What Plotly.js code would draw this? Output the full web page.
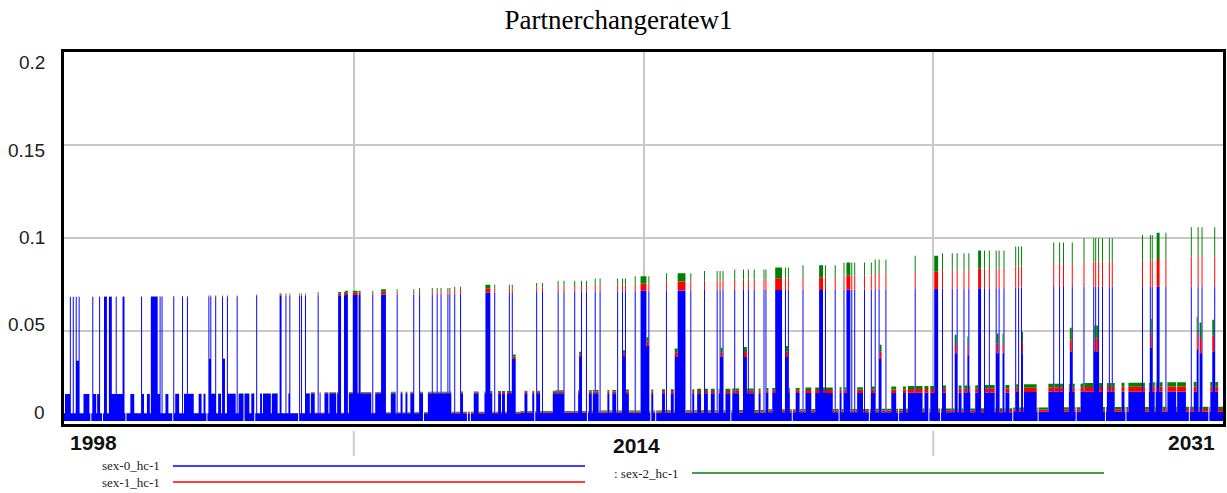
<!DOCTYPE html>
<html><head><meta charset="utf-8">
<script src="https://cdn.plot.ly/plotly-3.0.1.min.js"></script>
<style>html,body{margin:0;padding:0;background:#fff;}#chart{width:1227px;height:493px;}</style>
</head><body><div id="chart"></div>
<script>
// ---------------- DATA ----------------
const chartTitle = 'Partnerchangeratew1';
const seriesNames = ['sex-0_hc-1', 'sex-1_hc-1', 'sex-2_hc-1'];
const xTickText = ['1998', '2014', '2031'];
const yTickText = ['0', '0.05', '0.1', '0.15', '0.2'];
const yGrid = [0.05, 0.1, 0.15];
const startYear = 1998, endYear = 2031, stepsPerYear = 36;
const years = [1998,1999,2000,2001,2002,2003,2004,2005,2006,2007,2008,2009,2010,2011,2012,2013,2014,2015,2016,2017,2018,2019,2020,2021,2022,2023,2024,2025,2026,2027,2028,2029,2030,2031];

// level heights per year (blue = sex-0, red = sex-1, green = sex-2, stacked)
const baseBlue  = [.0058,.0058,.0058,.0058,.0058,.0058,.0058,.0058,.0058,.0058,.0058,.0058,.0058,.006,.006,.006,.006,.006,.006,.006,.0063,.0063,.0063,.0063,.0063,.0063,.0063,.0066,.0066,.0066,.0066,.0066,.0066,.0066];
const baseRed   = [0,0,0,0,0,0,.0001,.0002,.0002,.0003,.0004,.0005,.0005,.0006,.0006,.0007,.0007,.0008,.0008,.0008,.0009,.0009,.001,.001,.0011,.0011,.0012,.0012,.0013,.0013,.0013,.0014,.0014,.0015];
const baseGreen = [0,0,0,0,0,0,0,.0001,.0001,.0002,.0002,.0003,.0003,.0004,.0004,.0005,.0005,.0006,.0006,.0007,.0007,.0008,.0008,.0009,.0009,.001,.001,.0011,.0011,.0012,.0012,.0013,.0013,.0013];
const midBlue   = [.0161,.0161,.0161,.0161,.0161,.0161,.0161,.0165,.0165,.0165,.0165,.0165,.0165,.0165,.0165,.0165,.0165,.0165,.0165,.0165,.0166,.0166,.0166,.0167,.0168,.0169,.017,.0172,.0173,.0174,.0174,.0174,.0174,.0174];
const midRed    = [0,0,0,.0001,.0002,.0002,.0003,.0003,.0004,.0004,.0005,.0006,.0007,.0008,.0009,.001,.0011,.0012,.0013,.0014,.0015,.0017,.0018,.0019,.002,.0021,.0022,.0023,.0024,.0025,.0026,.0027,.0028,.0029];
const midGreen  = [0,0,0,.0001,.0001,.0002,.0002,.0003,.0003,.0004,.0004,.0004,.0005,.0006,.0007,.0008,.0009,.001,.0011,.0012,.0013,.0013,.0014,.0015,.0016,.0017,.0018,.0019,.002,.0021,.0022,.0023,.0024,.0025];
const tallBlue  = [.0684,.0684,.0684,.0684,.0686,.0688,.069,.0692,.0694,.0696,.0698,.07,.0705,.071,.0712,.0714,.0716,.0718,.072,.072,.072,.072,.0722,.0724,.0726,.0728,.073,.0734,.0736,.0738,.0738,.0738,.0738,.0738];
const tallRed   = [0,.0001,.0002,.0002,.0003,.0004,.0006,.0009,.0012,.0015,.0017,.002,.0022,.0025,.003,.0035,.004,.0048,.0053,.0057,.0063,.0069,.0076,.0083,.0092,.0098,.0105,.0114,.0124,.0134,.0143,.0149,.0164,.0172];
const tallGreen = [0,.0001,.0001,.0002,.0002,.0004,.0006,.0009,.0011,.0013,.0016,.0018,.0021,.0023,.0028,.0033,.0038,.0044,.0049,.0053,.0058,.0064,.007,.0077,.0086,.0092,.0098,.0106,.0116,.0126,.0135,.0141,.0156,.0163];

// times (years) of single-step tall spikes
const tallT = [1998.18,1998.25,1998.32,1998.42,1998.80,1999.01,1999.46,1999.68,1999.70,2000.19,2000.72,2000.78,2001.12,2001.37,2001.51,2002.11,2002.17,2002.30,2002.49,2002.65,2002.91,2003.48,2004.13,2004.17,2004.30,2004.43,
 2004.70,2004.76,2004.85,2005.21,2006.38,2006.43,2006.78,2007.15,2007.48,2007.95,2008.12,2008.47,2008.61,2008.73,2008.91,2008.97,2009.10,2009.29,2010.24,2010.68,2010.74,
 2011.44,2011.60,2012.06,2012.23,2012.54,2012.72,2012.85,2013.11,2013.25,2013.74,2013.90,2013.98,2014.24,2014.64,2015.15,2015.83,2016.21,2016.58,2016.68,2016.75,2017.08,2017.34,2017.48,2017.65,2017.91,
 2017.97,2018.54,2018.62,2019.04,2019.68,2019.95,2020.20,2020.42,2020.51,2020.77,2020.96,2021.08,2021.20,2021.38,2022.21,2023.00,2023.28,2023.42,2023.61,2023.75,2024.19,2024.32,2024.52,2024.60,
 2024.76,2025.07,2025.17,2025.26,2026.16,2026.32,2026.44,2026.70,2027.03,2027.30,2027.37,2027.44,2027.56,2027.76,2027.84,2028.69,2028.91,2028.96,2029.37,2030.09,2030.28,2030.40,2030.75];
// runs of tall values
const tallFrom = [1999.15,1999.28,2000.48,2005.80,2005.96,2006.22,2007.02,2010.00,2014.41,2015.48,2018.24,2019.51,2020.29,2022.77,2024.02,2029.10];
const tallTo   = [1999.19,1999.33,2000.64,2005.87,2006.06,2006.32,2007.10,2010.11,2014.55,2015.67,2018.43,2019.58,2020.36,2022.87,2024.08,2029.18];
// runs of middle values
const midFrom = [1998.04,1998.56,1998.65,1998.84,1998.94,1999.13,1999.36,1999.88,2000.22,2000.36,2000.66,2000.88,2001.16,2001.43,2001.84,2001.97,2002.20,2002.39,2002.68,2002.96,2003.15,2003.34,2003.58,2003.67,2003.91,2004.38,
 2004.87,2005.04,2005.28,2005.42,2005.56,2005.65,2005.77,2006.10,2006.62,2006.86,2007.09,2007.30,2007.57,2007.71,2007.85,2008.14,2008.37,2009.29,2009.68,2009.98,2010.36,2010.46,2010.60,
 2011.12,2011.33,2011.44,2011.92,2012.18,2012.63,2012.94,2013.05,2013.46,2013.62,2013.98,2014.72,2015.02,2015.28,2015.40,2015.89,2016.03,2016.21,2016.42,2016.63,2016.82,2017.03,2017.10,2017.34,2017.78,
 2017.96,2018.17,2018.59,2018.83,2019.11,2019.39,2020.07,2020.20,2020.59,2021.01,2021.55,2021.90,2022.02,2022.26,2022.49,2022.68,2022.99,2023.46,2023.65,2023.94,2024.21,2024.37,
 2024.81,2025.11,2025.33,2026.04,2026.61,2026.94,2027.70,2028.12,2028.31,2028.90,2029.07,2029.43,2029.54,2029.69,2030.16,2030.63];
const midTo = [1998.15,1998.60,1998.70,1998.89,1998.99,1999.16,1999.70,1999.98,2000.26,2000.42,2000.71,2000.95,2001.26,2001.68,2001.90,2002.01,2002.30,2002.44,2002.87,2003.09,2003.24,2003.39,2003.62,2003.86,2004.05,2004.42,
 2004.97,2005.11,2005.29,2005.49,2005.61,2005.71,2005.82,2006.58,2006.72,2007.00,2007.14,2007.43,2007.61,2007.76,2007.95,2008.19,2008.99,2009.32,2009.79,2010.17,2010.41,2010.52,2010.84,
 2011.17,2011.35,2011.54,2012.13,2012.23,2012.72,2012.99,2013.20,2013.51,2013.70,2014.06,2014.76,2015.07,2015.33,2015.68,2015.92,2016.11,2016.30,2016.49,2016.68,2016.95,2017.08,2017.20,2017.62,2017.81,
 2018.02,2018.26,2018.64,2018.92,2019.25,2019.87,2020.10,2020.25,2020.73,2021.05,2021.66,2021.95,2022.19,2022.43,2022.59,2022.80,2023.07,2023.54,2023.79,2024.08,2024.32,2024.48,
 2024.90,2025.18,2025.66,2026.42,2026.75,2027.56,2027.88,2028.17,2028.74,2029.02,2029.26,2029.50,2029.64,2029.92,2030.21,2030.82];
// partial spikes
const partFrom  = [1998.33,2002.11,2002.52,2010.76,2012.67,2013.91,2014.58,2015.40,2016.70,2017.37,2018.54,2020.29,2021.20,2022.78,2023.37,2023.71,2024.53,2024.72,2025.27,2026.65,2027.32,2028.95,2030.24,2030.34,2030.69];
const partTo    = [1998.41,2002.17,2002.56,2010.82,2012.71,2013.97,2014.60,2015.47,2016.76,2017.41,2018.61,2020.37,2021.24,2022.82,2023.41,2023.74,2024.60,2024.74,2025.29,2026.67,2027.43,2028.97,2030.26,2030.36,2030.71];
const partBlue  = [.034,.035,.035,.035,.036,.036,.042,.036,.036,.036,.036,.035,.035,.036,.038,.037,.038,.038,.038,.039,.039,.041,.040,.038,.039];
const partRed   = [0,.0001,.0001,.0012,.0014,.0018,.0023,.0023,.0025,.0027,.003,.0035,.0038,.0045,.005,.005,.0053,.0053,.0057,.0064,.007,.0078,.0088,.0083,.0085];
const partGreen = [0,.0001,.0001,.0012,.0014,.0018,.0023,.0023,.0025,.0027,.003,.0035,.0038,.0045,.005,.005,.0053,.0053,.0057,.0064,.007,.0078,.0088,.0083,.0085];
// single steps where all series drop to zero
const dipT = [1998.75,1999.08,1999.74,2001.07,2002.06,2003.10,2003.43,2004.68,2005.51,2007.62,2008.23,2009.47,2009.56,2010.53,2011.38,2012.89,2013.01,2013.60,2014.69,2014.83,2016.96,2017.77,2018.04,2018.73,2020.06,2020.91,2021.67,2021.76,2022.61,2022.95,2025.00,2025.38,2025.71,2026.80,2027.65,2028.23,2030.02,2030.59];

// ---------------- BUILD SERIES ----------------
const N = (endYear - startYear) * stepsPerYear;
const wk = v => Math.max(0, Math.min(N - 1, Math.round((v - startYear) * stepsPerYear)));
const level = new Array(N).fill(0);
midFrom.forEach((f, i) => { for (let k = wk(f); k <= wk(midTo[i]); k++) level[k] = Math.max(level[k], 1); });
tallFrom.forEach((f, i) => { for (let k = wk(f); k <= wk(tallTo[i]); k++) level[k] = 2; });
tallT.forEach(v => { level[wk(v)] = 2; });
const tables = [[baseBlue, baseRed, baseGreen], [midBlue, midRed, midGreen], [tallBlue, tallRed, tallGreen]];
const xs = [], s0 = [], s1 = [], s2 = [];
for (let k = 0; k < N; k++) {
  const x = startYear + k / stepsPerYear;
  const yi = Math.min(years.length - 1, years.indexOf(Math.floor(x + 1e-9)));
  const tb = tables[level[k]];
  xs.push(x); s0.push(tb[0][yi]); s1.push(tb[1][yi]); s2.push(tb[2][yi]);
}
partFrom.forEach((f, i) => { for (let k = wk(f); k <= wk(partTo[i]); k++) if (level[k] < 2) { s0[k] = partBlue[i]; s1[k] = partRed[i]; s2[k] = partGreen[i]; } });
dipT.forEach(v => { const k = wk(v); if (level[k] === 0) { s0[k] = 0; s1[k] = 0; s2[k] = 0; } });
xs.push(endYear); s0.push(s0[N - 1]); s1.push(s1[N - 1]); s2.push(s2[N - 1]);

// ---------------- LAYOUT ----------------
const W = 1227, H = 493, L = 64, R = 4, T = 52, B = 69;
const plotW = W - L - R, plotH = H - T - B;
const px = p => (p - L) / plotW;
const py = p => (H - B - p) / plotH;
const colors = ['#0000ff', '#ff0000', '#008000'];
const traces = [s0, s1, s2].map((s, i) => ({
  x: xs, y: s, type: 'scatter', mode: 'lines', stackgroup: 'one', name: seriesNames[i],
  line: { shape: 'hv', width: 0, color: colors[i] }, fillcolor: colors[i], hoverinfo: 'skip', showlegend: false
}));
const xGrid = [1, 2, 3].map(i => startYear + i * (endYear - startYear) / 4);

const sansFont = 'Liberation Sans, Arial, sans-serif';
const serifFont = 'Liberation Serif, Times New Roman, serif';
const annotations = [];
const yLabTop = 63, yLabBot = 412;
yTickText.forEach((t, i) => annotations.push({
  text: t, xref: 'paper', yref: 'paper', x: px(47), y: py(yLabBot - i * (yLabBot - yLabTop) / (yTickText.length - 1)),
  xanchor: 'right', yanchor: 'middle', showarrow: false, font: { family: sansFont, size: 19, color: '#222' }
}));
const xLabPos = [[68, 442, 'left'], [636.5, 445, 'center'], [1217, 442, 'right']];
xTickText.forEach((t, i) => annotations.push({
  text: '<b>' + t + '</b>', xref: 'paper', yref: 'paper', x: px(xLabPos[i][0]), y: py(xLabPos[i][1]),
  xanchor: xLabPos[i][2], yanchor: 'middle', showarrow: false, font: { family: sansFont, size: 21, color: '#111' }
}));
const legPos = [[162, 466, 173, 585], [162, 482, 173, 585], [681, 473, 692, 1104]];
const shapes = [];
seriesNames.forEach((n, i) => {
  const p = legPos[i];
  annotations.push({ text: (i === 2 ? ': ' : '') + n, xref: 'paper', yref: 'paper', x: px(p[0]), y: py(p[1]),
    xanchor: 'right', yanchor: 'middle', showarrow: false, font: { family: serifFont, size: 13, color: '#222' } });
  shapes.push({ type: 'line', xref: 'paper', yref: 'paper', x0: px(p[2]), x1: px(p[3]), y0: py(p[1]), y1: py(p[1]),
    line: { color: colors[i], width: 1.5 } });
});
shapes.push({ type: 'rect', xref: 'paper', yref: 'paper', x0: 0, x1: 1, y0: 0, y1: py(421), fillcolor: '#fff', line: { width: 0 }, layer: 'above' });
[xGrid[0], xGrid[2]].forEach(g => shapes.push({ type: 'line', xref: 'x', yref: 'paper', x0: g, x1: g, y0: py(431), y1: py(456),
  line: { color: '#cccccc', width: 2 } }));

const layout = {
  width: W, height: H, margin: { l: L, r: R, t: T, b: B, pad: 0 },
  paper_bgcolor: '#fff', plot_bgcolor: '#fff', showlegend: false,
  title: { text: chartTitle, font: { family: serifFont, size: 27, color: '#000' }, x: 618.5 / W, xref: 'container', xanchor: 'center', y: 1 - 20 / H, yref: 'container', yanchor: 'middle' },
  xaxis: { range: [startYear, endYear], tickvals: xGrid, showticklabels: false, ticks: '', showgrid: true, gridcolor: '#c8c8c8', gridwidth: 2,
    showline: true, mirror: true, linecolor: '#000', linewidth: 3, zeroline: false, fixedrange: true },
  yaxis: { range: [0, 0.2], tickvals: yGrid, showticklabels: false, ticks: '', showgrid: true, gridcolor: '#c8c8c8', gridwidth: 2,
    showline: true, mirror: true, linecolor: '#000', linewidth: 3, zeroline: false, fixedrange: true },
  annotations: annotations, shapes: shapes
};
Plotly.newPlot('chart', traces, layout, { staticPlot: true, displayModeBar: false });
</script></body></html>
